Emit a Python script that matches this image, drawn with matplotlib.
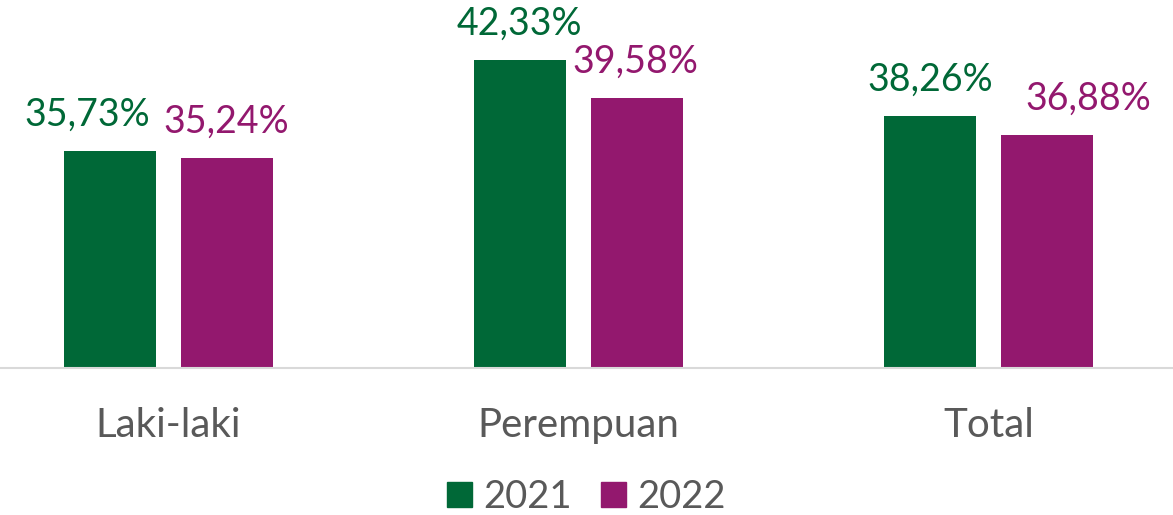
import matplotlib.pyplot as plt
import numpy as np
from matplotlib.patches import Patch

# data
kategori = ['Laki-laki', 'Perempuan', 'Total']
tahun = ['2021', '2022']
nilai_2021 = [35.73, 42.33, 38.26]
nilai_2022 = [35.24, 39.58, 36.88]

warna_hijau = '#006837'
warna_ungu = '#93186E'
abu = '#595959'

# geser label supaya tidak tumpang tindih (dalam points)
geser_2021 = [-16, 0, 0]
geser_2022 = [0, -1, 30]

plt.rcParams['font.family'] = ['Lato', 'DejaVu Sans']

fig = plt.figure(figsize=(11.73, 5.15), dpi=100)
ax = fig.add_axes([0, (515 - 368) / 515, 1, 368 / 515])

x = np.arange(len(kategori))
lebar = 0.224
jarak = 0.061
off = (lebar + jarak) / 2

bar1 = ax.bar(x - off, nilai_2021, lebar, color=warna_hijau, zorder=2)
bar2 = ax.bar(x + off, nilai_2022, lebar, color=warna_ungu, zorder=2)

# label angka, format koma
for bars, vals, gs, c in [(bar1, nilai_2021, geser_2021, warna_hijau),
                          (bar2, nilai_2022, geser_2022, warna_ungu)]:
    for b, v, g in zip(bars, vals, gs):
        teks = f'{v:.2f}%'.replace('.', ',')
        ax.annotate(teks, (b.get_x() + b.get_width() / 2, v), xytext=(g, 13),
                    textcoords='offset points', ha='center', va='bottom',
                    fontsize=27, color=c)

ax.set_xlim(-0.41, 2.45)
ax.set_ylim(20, 20 + 368 / 13.79)

for s in ['top', 'right', 'left']:
    ax.spines[s].set_visible(False)
ax.spines['bottom'].set_color('#d9d9d9')
ax.spines['bottom'].set_linewidth(1.5)
ax.set_yticks([])
ax.set_xticks(x)
ax.set_xticklabels(kategori, fontsize=29, color=abu)
ax.tick_params(axis='x', length=0, pad=28)

handles = [Patch(color=warna_hijau), Patch(color=warna_ungu)]
fig.legend(handles, tahun, loc='center', bbox_to_anchor=(0.5, 1 - 497 / 515),
           ncol=2, frameon=False, fontsize=27.5, labelcolor=abu,
           handlelength=0.65, handleheight=0.65, handletextpad=0.3, columnspacing=0.75)

fig.savefig('out.png', dpi=100)
